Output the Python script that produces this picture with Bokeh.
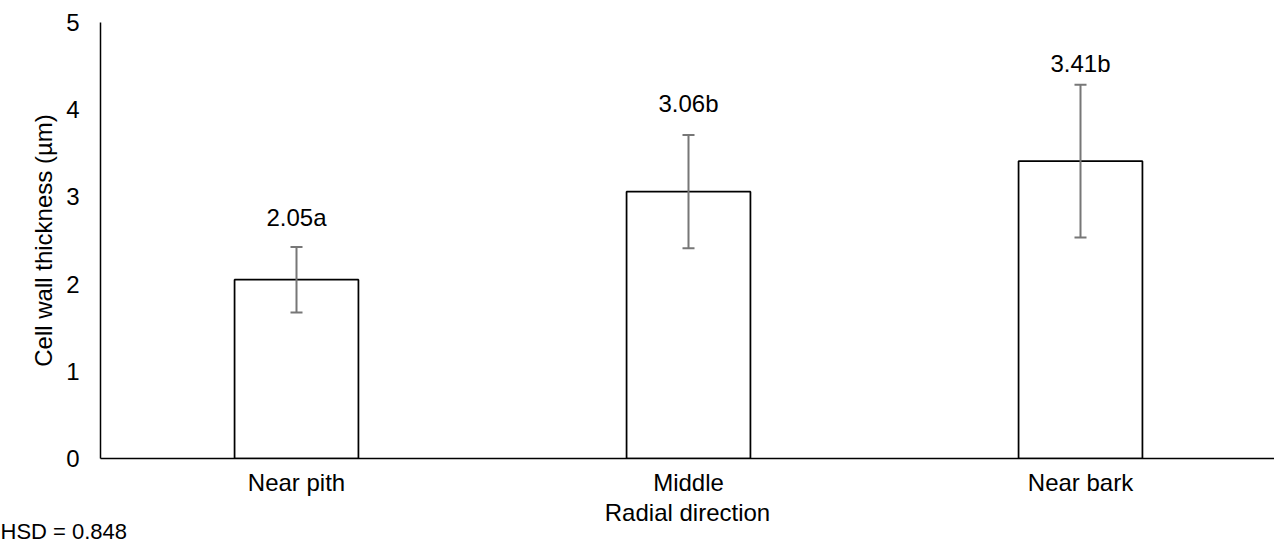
from bokeh.plotting import figure
from bokeh.models import (Range1d, FixedTicker, Whisker, TeeHead, ColumnDataSource, Title)
from bokeh.embed import file_html
from bokeh.resources import INLINE
from bokeh.core.properties import value

# ---- data ----
categories = ["Near pith", "Middle", "Near bark"]
means = [2.05, 3.06, 3.41]
errors = [0.375, 0.65, 0.875]
letters = ["a", "b", "b"]
y_ticks = [0, 1, 2, 3, 4, 5]
hsd = 0.848

# ---- layout/style constants ----
FONT = "Liberation Sans"
FS = "24px"
label_gap_px = [30, 31, 21]

xs = [i + 0.5 for i in range(len(categories))]
src = ColumnDataSource(dict(
    x=xs,
    top=means,
    upper=[m + e for m, e in zip(means, errors)],
    lower=[m - e for m, e in zip(means, errors)],
    label=[f"{m:.2f}{l}" for m, l in zip(means, letters)],
    yoff=[-g for g in label_gap_px],
))

p = figure(width=1274, height=542,
           x_range=Range1d(0, 1174 / 392), y_range=Range1d(0, 5),
           output_backend="svg", toolbar_location=None,
           min_border_left=100, min_border_right=0,
           min_border_top=22, min_border_bottom=84)
p.outline_line_color = None
p.xgrid.visible = False
p.ygrid.visible = False
p.background_fill_color = "white"
p.border_fill_color = "white"

p.vbar(x="x", top="top", width=0.316, source=src,
       fill_color="white", line_color="black", line_width=1.75)

w = Whisker(base="x", upper="upper", lower="lower", source=src,
            line_color="#777777", line_width=2, level="overlay",
            upper_head=TeeHead(size=12, line_color="#777777", line_width=2),
            lower_head=TeeHead(size=12, line_color="#777777", line_width=2))
p.add_layout(w)

p.text(x="x", y="upper", text="label", source=src, y_offset="yoff",
       text_align="center", text_baseline="alphabetic",
       text_font=value(FONT), text_font_size=FS, text_color="black")

# axes
p.xaxis.ticker = FixedTicker(ticks=xs)
p.xaxis.major_label_overrides = {x: c for x, c in zip(xs, categories)}
p.yaxis.ticker = FixedTicker(ticks=y_ticks)
for ax in (p.xaxis[0], p.yaxis[0]):
    ax.major_tick_out = 0
    ax.major_tick_in = 0
    ax.minor_tick_out = 0
    ax.minor_tick_in = 0
    ax.axis_line_color = "black"
    ax.axis_line_width = 1.5
    ax.major_label_text_font = FONT
    ax.major_label_text_font_size = FS
    ax.major_label_text_color = "black"
    ax.axis_label_text_font = FONT
    ax.axis_label_text_font_size = FS
    ax.axis_label_text_font_style = "normal"
    ax.axis_label_text_color = "black"

p.xaxis.axis_label = "Radial direction"
p.xaxis.major_label_standoff = 10
p.xaxis.axis_label_standoff = 0
p.yaxis.axis_label = "Cell wall thickness (µm)"
p.yaxis.major_label_standoff = 21
p.yaxis.axis_label_standoff = 6

hsd_title = Title(text=f"HSD = {hsd}", align="left", offset=-100,
                  vertical_align="bottom", standoff=-24,
                  text_font=FONT, text_font_size="22px",
                  text_font_style="normal", text_color="black")
p.add_layout(hsd_title, "below")

open("out.html", "w").write(file_html(p, INLINE))
